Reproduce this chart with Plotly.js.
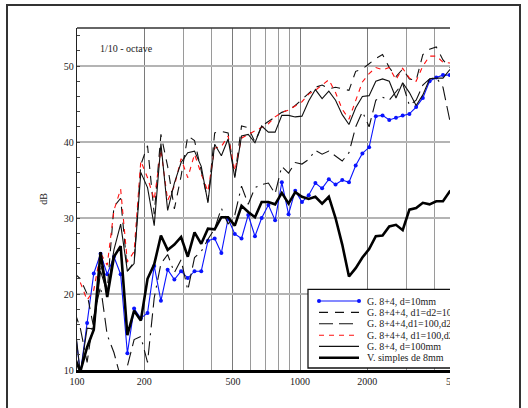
<!DOCTYPE html>
<html>
<head>
<meta charset="utf-8">
<script src="https://cdn.plot.ly/plotly-3.0.1.min.js"></script>
<style>
html,body{margin:0;padding:0;background:#fff;width:528px;height:408px;overflow:hidden}
#clip{position:absolute;left:0;top:0;width:450px;height:408px;overflow:hidden;z-index:1}
#chart{width:528px;height:408px}
#frame{position:absolute;left:6px;top:4px;width:515px;height:430px;border:2px solid #333;box-sizing:border-box;pointer-events:none;z-index:2}
</style>
</head>
<body>
<div id="clip"><div id="chart"></div></div>
<div id="frame"></div>
<script>
// 1/10-octave band centre frequencies (Hz)
var freqs = [96.6,103.5,111.0,118.9,127.5,136.6,146.4,156.9,168.2,180.3,
  193.2,207.1,221.9,237.8,254.9,273.2,292.8,313.8,336.4,360.5,
  386.4,414.1,443.8,475.7,509.8,546.4,585.6,627.7,672.7,721.0,
  772.8,828.2,887.7,951.4,1019.7,1092.9,1171.3,1255.4,1345.5,1442.0,
  1545.5,1656.5,1775.4,1902.7,2039.3,2185.7,2342.6,2510.7,2690.9,2884.0,
  3091.0,3312.9,3550.8,3805.5,4078.7,4371.4,4685.2,5021.4];

var tickVals = [100,200,500,1000,2000,5000];
var tickText = ['100','200','500','1000','2000','5000'];
var minorGridVals = [300,400,600,700,800,900,3000,4000];
var yTickVals = [10,20,30,40,50];

var seriesNames = [
  'G. 8+4, d=10mm',
  'G. 8+4+4, d1=d2=10mm',
  'G. 8+4+4,d1=100,d2=10mm',
  'G. 8+4+4, d1=100,d2=100mm',
  'G. 8+4, d=100mm',
  'V. simples de 8mm'
];

var g84_d10 = [17.0,9.5,16.2,22.7,25.3,22.6,24.9,22.6,12.2,18.1,
  16.8,17.5,23.7,19.1,23.2,21.9,23.0,22.1,23.0,23.0,
  27.0,27.3,25.4,29.9,27.9,27.3,30.4,27.6,30.0,31.7,
  29.7,34.7,30.5,33.6,32.1,33.0,34.6,33.9,35.1,34.4,
  35.0,34.7,36.9,38.5,39.3,43.4,43.5,42.9,43.2,43.5,
  43.7,44.6,45.8,48.0,48.5,48.8,48.8,48.8];

var g844_d10_d10 = [22.8,22.0,20.0,15.5,24.0,20.5,31.5,32.6,23.0,24.2,
  37.0,39.5,30.5,41.0,36.8,31.2,35.5,40.8,40.2,36.3,
  32.2,41.2,41.4,41.2,35.5,42.1,41.9,40.0,42.1,42.7,
  43.3,43.9,44.2,44.8,45.6,46.4,47.2,47.5,47.0,47.2,
  47.0,46.8,49.3,49.6,50.3,51.0,51.5,49.8,48.6,49.6,
  48.3,48.1,51.5,52.2,52.5,50.8,49.8,49.8];

var g844_d100_d10 = [18.0,15.5,11.0,17.0,21.0,14.6,12.3,9.0,10.5,14.0,
  14.4,11.0,19.5,24.0,25.2,22.8,24.5,20.5,24.8,25.6,
  27.2,28.6,31.3,29.2,30.4,34.2,31.8,34.0,34.4,34.6,
  33.2,36.8,35.9,37.3,37.1,37.7,38.9,38.4,38.8,38.2,
  37.5,38.6,42.0,44.0,42.0,45.5,45.9,45.5,46.6,47.7,
  44.8,45.5,47.5,48.3,48.5,47.2,42.9,40.0];

var g844_d100_d100 = [22.5,21.5,19.2,20.5,25.4,23.8,31.0,33.8,24.2,25.6,
  37.5,35.3,32.4,39.0,32.3,34.2,37.8,35.3,38.4,35.8,
  33.5,39.2,39.4,40.8,36.2,40.5,41.0,41.5,42.0,42.4,
  43.3,43.9,44.2,44.7,45.3,46.3,46.8,47.5,48.2,46.5,
  44.3,43.0,45.5,47.9,49.0,49.8,49.5,49.8,48.2,49.7,
  48.4,48.0,50.0,51.3,51.3,50.5,50.4,50.4];

var g84_d100 = [17.5,9.5,15.5,15.4,23.0,20.2,25.8,29.2,23.0,24.0,
  36.0,34.0,29.0,39.8,31.0,34.6,37.3,38.6,38.8,36.8,
  32.0,39.7,38.2,40.4,35.3,40.8,41.0,39.9,42.1,41.3,
  41.3,43.5,43.5,43.3,43.4,45.4,46.9,45.7,46.7,45.5,
  43.6,42.3,44.5,46.0,46.1,48.0,48.3,48.0,45.8,47.8,
  46.5,44.8,46.2,48.3,48.4,48.4,49.5,49.5];

var simples8 = [12.0,9.8,13.0,15.3,25.5,19.6,24.9,26.3,14.6,17.8,
  16.5,22.0,23.9,27.7,25.8,26.5,27.5,24.9,28.1,26.6,
  28.6,28.5,30.1,30.1,29.0,31.6,30.8,30.1,32.1,32.1,
  31.8,33.3,31.9,33.4,32.8,32.5,32.8,31.9,32.8,30.0,
  26.5,22.3,23.4,24.8,25.9,27.6,27.7,28.9,29.1,28.4,
  31.1,31.3,32.0,31.8,32.2,32.2,33.5,34.0];

var seriesValues = [g84_d10, g844_d10_d10, g844_d100_d10, g844_d100_d100, g84_d100, simples8];

var styles = [
  {color:'#0a14ff', width:1.1, dash:'solid', marker:true},
  {color:'#111111', width:1.1, dash:'9px,7px'},
  {color:'#111111', width:1.1, dash:'14px,6px,14px,6px,2px,6px'},
  {color:'#ff1010', width:1.1, dash:'5px,5px'},
  {color:'#111111', width:1.1, dash:'solid'},
  {color:'#000000', width:2.6, dash:'solid'}
];

var W = 528, H = 408, M = {l:77, r:72, t:28, b:38};
var pw = W - M.l - M.r, ph = H - M.t - M.b;
function px(X){ return (X - M.l) / pw; }
function py(Y){ return (H - M.b - Y) / ph; }

var FONT = 'Liberation Serif, Times New Roman, serif';

var traces = seriesValues.map(function(vals, i){
  var s = styles[i];
  return {
    type:'scatter', x:freqs, y:vals, name:seriesNames[i],
    mode: s.marker ? 'lines+markers' : 'lines',
    line:{color:s.color, width:s.width, dash:s.dash},
    marker:{color:s.color, size:4},
    showlegend:false, hoverinfo:'skip'
  };
});

// manual legend (compact rows like the original)
var legRowsY = [301, 312.4, 323.8, 335.2, 346.4, 357.8];
var shapes = [
  {type:'line', xref:'paper', yref:'paper', x0:0, x1:1, y0:1, y1:1, line:{color:'#333', width:1.5}},
  {type:'rect', xref:'paper', yref:'paper', layer:'above', x0:px(308), x1:1.2, y0:py(368), y1:py(289.3),
   fillcolor:'#ffffff', line:{color:'#111', width:1.3}}
];
var annotations = [
  {xref:'paper', yref:'paper', x:px(126.5), y:py(48.7), text:'1/10 - octave', showarrow:false,
   xanchor:'center', yanchor:'middle', font:{family:FONT, size:10, color:'#222'}}
];
legRowsY.forEach(function(Y, i){
  var s = styles[i];
  shapes.push({type:'line', xref:'paper', yref:'paper', layer:'above', x0:px(319), x1:px(359), y0:py(Y), y1:py(Y),
    line:{color:s.color, width:s.width, dash:s.dash}});
  if (s.marker) {
    [319, 359].forEach(function(X){
      shapes.push({type:'circle', xref:'paper', yref:'paper', layer:'above',
        xsizemode:'pixel', ysizemode:'pixel', xanchor:px(X), yanchor:py(Y),
        x0:-2, x1:2, y0:-2, y1:2, fillcolor:s.color, line:{color:s.color, width:0}});
    });
  }
  annotations.push({xref:'paper', yref:'paper', x:px(365), y:py(Y), text:seriesNames[i], showarrow:false,
    xanchor:'left', yanchor:'middle', font:{family:FONT, size:10, color:'#222'}});
});

var layout = {
  width:W, height:H,
  margin:{l:M.l, r:M.r, t:M.t, b:M.b, autoexpand:false},
  paper_bgcolor:'rgba(0,0,0,0)', plot_bgcolor:'#ffffff',
  font:{family:FONT, size:10, color:'#222'},
  showlegend:false,
  xaxis:{
    type:'log', range:[2, Math.log10(5000)],
    tickmode:'array', tickvals:tickVals, ticktext:tickText,
    ticks:'', showgrid:true, gridcolor:'#7a7a7a', gridwidth:1,
    minor:{tickmode:'array', tickvals:minorGridVals, showgrid:true, gridcolor:'#9a9a9a', gridwidth:1, ticks:''},
    showline:true, linecolor:'#000', linewidth:3, zeroline:false,
    tickfont:{family:FONT, size:10, color:'#222'}
  },
  yaxis:{
    range:[10,55], tickmode:'array', tickvals:yTickVals,
    ticks:'inside', ticklen:3, tickcolor:'#444',
    showgrid:true, gridcolor:'#b4b4b4', gridwidth:2,
    minor:{dtick:2, ticks:'inside', ticklen:3, tickcolor:'#444', showgrid:false},
    showline:true, linecolor:'#222', linewidth:1.3, zeroline:false,
    tickfont:{family:FONT, size:10, color:'#222'},
    title:{text:'dB', font:{family:FONT, size:10, color:'#222'}, standoff:14}
  },
  shapes:shapes,
  annotations:annotations
};

Plotly.newPlot('chart', traces, layout, {staticPlot:true, displayModeBar:false});
</script>
</body>
</html>
